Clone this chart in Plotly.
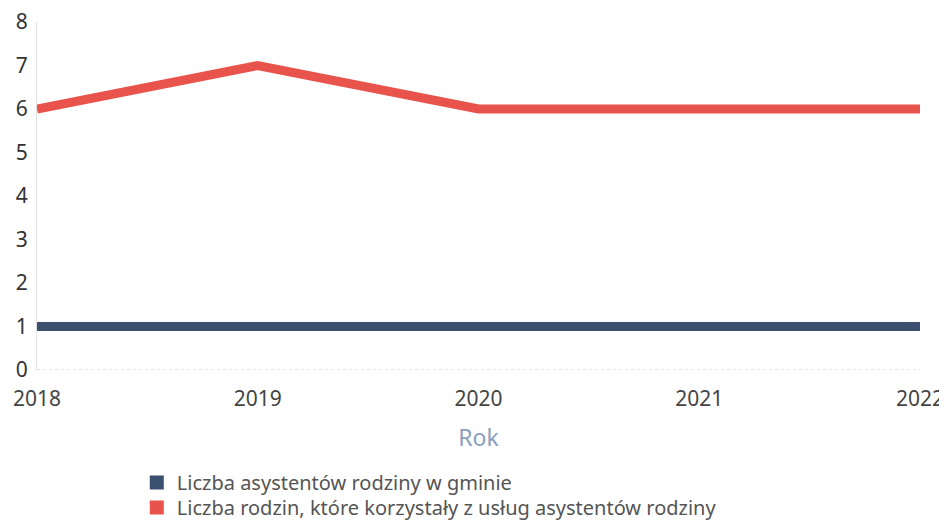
import plotly.graph_objects as go

years = [2018, 2019, 2020, 2021, 2022]
asystenci = [1, 1, 1, 1, 1]
rodziny = [6, 7, 6, 6, 6]
series_names = [
    "Liczba asystentów rodziny w gminie",
    "Liczba rodzin, które korzystały z usług asystentów rodziny",
]
colors = ["#3b4f6e", "#e8534c"]
y_ticks = list(range(0, 9))

fig = go.Figure()
for vals, name, col in zip([asystenci, rodziny], series_names, colors):
    fig.add_trace(go.Scatter(x=years, y=vals, mode="lines", name=name,
                             line=dict(color=col, width=9), showlegend=False,
                             hoverinfo="x+y"))
for name, col, lg in zip(series_names, colors, ["legend", "legend2"]):
    fig.add_trace(go.Scatter(x=[None], y=[None], mode="markers", name=name,
                             legend=lg,
                             marker=dict(symbol="square", size=14, color=col)))

# dotted baseline
fig.add_shape(type="line", xref="x", yref="y", x0=years[0], x1=years[-1], y0=0, y1=0,
              line=dict(color="#c5cdd9", width=1, dash="dot"), layer="below")

legend_style = dict(xanchor="left", yanchor="top", yref="container",
                    orientation="v", font=dict(size=20, color="#555555"),
                    itemwidth=30, bgcolor="rgba(0,0,0,0)")

fig.update_layout(
    width=947, height=525,
    paper_bgcolor="white", plot_bgcolor="white",
    margin=dict(l=29, r=35, t=14, b=163),
    font=dict(family="Noto Sans, Open Sans, sans-serif", size=20, color="#333333"),
    xaxis=dict(
        range=[2018, 2022], tickvals=years, ticktext=[str(y) for y in years],
        showgrid=False, zeroline=False, showline=False, ticks="", automargin=False,
        tickfont=dict(size=21, color="#444444"), ticklabelstandoff=14,
        ticklabeloverflow="allow",
        title=dict(text="Rok", font=dict(size=23, color="#8a9ec0"), standoff=18),
    ),
    yaxis=dict(
        range=[0, 8], tickvals=y_ticks, showgrid=False, zeroline=False,
        showline=True, linecolor="#e3e3e3", linewidth=1, ticks="", automargin=False,
        tickfont=dict(size=21, color="#333333"), ticklabelstandoff=4,
        ticklabeloverflow="allow",
    ),
    legend=dict(x=0.113, y=0.1333, **legend_style),
    legend2=dict(x=0.113, y=0.0857, **legend_style),
    showlegend=True,
)

fig.write_html("out.html")
